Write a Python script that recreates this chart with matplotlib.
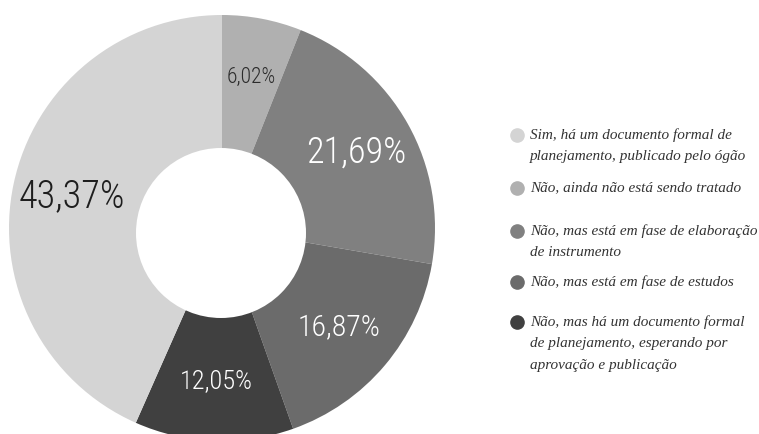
import matplotlib
matplotlib.use("Agg")
import matplotlib.pyplot as plt
from matplotlib.lines import Line2D
from matplotlib.patches import Circle
import numpy as np

labels = ["Sim, há um documento formal de\nplanejamento, publicado pelo ógão",
          "Não, ainda não está sendo tratado",
          "Não, mas está em fase de elaboração\nde instrumento",
          "Não, mas está em fase de estudos",
          "Não, mas há um documento formal\nde planejamento, esperando por\naprovação e publicação"]
legend_colors = ["#d4d4d4", "#b0b0b0", "#808080", "#6b6b6b", "#404040"]

# pie order (clockwise from top)
slice_values = [6.02, 21.69, 16.87, 12.05, 43.37]
slice_labels = ["6,02%", "21,69%", "16,87%", "12,05%", "43,37%"]
slice_colors = ["#b0b0b0", "#808080", "#6b6b6b", "#404040", "#d4d4d4"]
label_colors = ["#2b2b2b", "#ffffff", "#ffffff", "#ffffff", "#1e1e1e"]
label_sizes = [15.5, 26, 21.5, 19, 27.5]

W, H = 759, 434
fig = plt.figure(figsize=(W / 100, H / 100), dpi=100)
R = 213
cx, cy = 222, 206
ax = fig.add_axes([(cx - R) / W, (cy - R) / H, 2 * R / W, 2 * R / H])
ax.pie(slice_values, colors=slice_colors, startangle=90, counterclock=False,
       radius=1.0, wedgeprops=dict(linewidth=0))
# white hole (slightly off-centre as in the original)
ax.add_patch(Circle((-1 / R, -5 / R), 85 / R, facecolor="white", edgecolor="none", zorder=3))
total = sum(slice_values)
cum = 0
for v, lab, c, s in zip(slice_values, slice_labels, label_colors, label_sizes):
    mid = (cum + v / 2) / total * 360
    cum += v
    ang = np.deg2rad(90 - mid)
    r = 0.72
    ax.text(r * np.cos(ang), r * np.sin(ang), lab, ha="center", va="center", zorder=4,
            fontsize=s, color=c, family="Roboto Condensed", fontweight=300)
ax.set_xlim(-1, 1)
ax.set_ylim(-1, 1)
ax.set_aspect("auto")
ax.axis("off")

# legend
ys = [135, 188, 231, 282, 322]
for y, lab, c in zip(ys, labels, legend_colors):
    fig.add_artist(Line2D([517 / W], [1 - y / H], marker="o", markersize=9.5, color=c,
                          linestyle="none", transform=fig.transFigure))
    fig.text(530 / W, 1 - (y - 7) / H, lab, ha="left", va="top", fontsize=11,
             family="Liberation Serif", style="italic", color="#333333", linespacing=1.85)

fig.savefig("out.png", dpi=100)
